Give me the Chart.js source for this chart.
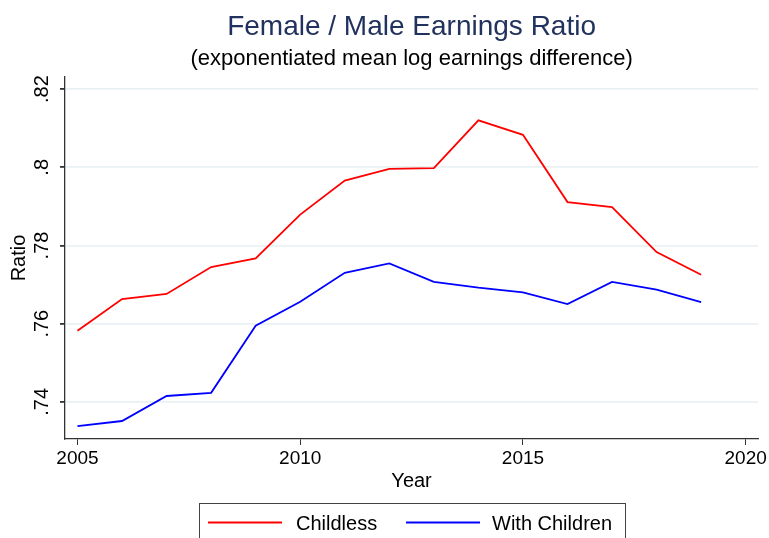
<!DOCTYPE html>
<html>
<head>
<meta charset="utf-8">
<script src="https://cdn.jsdelivr.net/npm/chart.js@4/dist/chart.umd.min.js"></script>
<style>
  html, body { margin: 0; padding: 0; background: #fff; }
  #wrap { width: 769px; height: 538px; }
</style>
</head>
<body>
<div id="wrap"><canvas id="ratioChart" width="769" height="538"></canvas></div>
<script>
// data
const years = [2005, 2006, 2007, 2008, 2009, 2010, 2011, 2012, 2013, 2014, 2015, 2016, 2017, 2018, 2019];
const childless = [0.7582, 0.7663, 0.7676, 0.7745, 0.7767, 0.7879, 0.7966, 0.7996, 0.7998, 0.8120, 0.8083, 0.7911, 0.7898, 0.7783, 0.7725];
const withChildren = [0.7338, 0.7351, 0.7415, 0.7423, 0.7595, 0.7656, 0.7730, 0.7754, 0.7707, 0.7692, 0.7680, 0.7650, 0.7707, 0.7687, 0.7655];
const xTicks = [2005, 2010, 2015, 2020];
const yTicks = [0.74, 0.76, 0.78, 0.80, 0.82];
const yTickLabels = ['.74', '.76', '.78', '.8', '.82'];

const FONT = "'Liberation Sans', Arial, Helvetica, sans-serif";

// titles, rotated y labels, axis titles and boxed legend
const stataBits = {
    id: 'stataBits',
    afterDraw(chart) {
        const c = chart.ctx;
        const area = chart.chartArea;
        const ys = chart.scales.y;
        const mid = (area.left + area.right) / 2;

        c.save();
        c.textAlign = 'center';
        c.textBaseline = 'alphabetic';
        c.fillStyle = '#22325e';
        c.font = '28px ' + FONT;
        c.fillText('Female / Male Earnings Ratio', mid, 35);
        c.fillStyle = '#000';
        c.font = '22px ' + FONT;
        c.fillText('(exponentiated mean log earnings difference)', mid, 65);

        // y tick labels, turned like Stata does
        c.font = '20px ' + FONT;
        yTicks.forEach((v, i) => {
            const py = ys.getPixelForValue(v);
            c.save();
            c.translate(48, py);
            c.rotate(-Math.PI / 2);
            c.fillText(yTickLabels[i], 0, 0);
            c.restore();
        });

        c.save();
        c.translate(25, (area.top + area.bottom) / 2);
        c.rotate(-Math.PI / 2);
        c.fillText('Ratio', 0, 0);
        c.restore();

        c.fillText('Year', mid, 487);

        // legend
        c.strokeStyle = '#444';
        c.lineWidth = 1;
        c.strokeRect(199.5, 503.5, 426, 60);
        const items = [
            { x: 208, tx: 296, ds: chart.data.datasets[0] },
            { x: 406, tx: 492, ds: chart.data.datasets[1] }
        ];
        c.textAlign = 'left';
        items.forEach(it => {
            c.strokeStyle = it.ds.borderColor;
            c.lineWidth = it.ds.borderWidth;
            c.beginPath();
            c.moveTo(it.x, 522.5);
            c.lineTo(it.x + 74, 522.5);
            c.stroke();
            c.fillStyle = '#000';
            c.fillText(it.ds.label, it.tx, 530);
        });
        c.restore();
    }
};

new Chart(document.getElementById('ratioChart'), {
    type: 'line',
    data: {
        datasets: [{
            label: 'Childless',
            data: years.map((yr, i) => ({ x: yr, y: childless[i] })),
            borderColor: '#ff0000',
            borderWidth: 1.8,
            pointRadius: 0,
            tension: 0
        }, {
            label: 'With Children',
            data: years.map((yr, i) => ({ x: yr, y: withChildren[i] })),
            borderColor: '#0000ff',
            borderWidth: 1.8,
            pointRadius: 0,
            tension: 0
        }]
    },
    options: {
        responsive: false,
        animation: false,
        layout: { padding: { top: 77, right: 10, left: 0, bottom: 0 } },
        plugins: {
            legend: { display: false },
            tooltip: { enabled: false },
            title: { display: false }
        },
        scales: {
            x: {
                type: 'linear',
                min: 2004.72,
                max: 2020.28,
                afterBuildTicks: s => { s.ticks = xTicks.map(v => ({ value: v })); },
                afterFit: s => { s.height = 99; },
                border: { color: '#333', width: 1.3 },
                grid: { drawOnChartArea: false, drawTicks: true, tickLength: 6, tickColor: '#333' },
                ticks: {
                    color: '#000',
                    padding: 2,
                    maxRotation: 0,
                    font: { family: FONT, size: 19 },
                    callback: v => String(v)
                }
            },
            y: {
                type: 'linear',
                min: 0.7305,
                max: 0.8231,
                afterBuildTicks: s => { s.ticks = yTicks.map(v => ({ value: v })); },
                afterFit: s => { s.width = 65; },
                border: { color: '#333', width: 1.3 },
                grid: { color: '#eaf1f3', lineWidth: 1.8, tickLength: 5, tickColor: '#333' },
                ticks: { display: false }
            }
        }
    },
    plugins: [stataBits]
});
</script>
</body>
</html>
